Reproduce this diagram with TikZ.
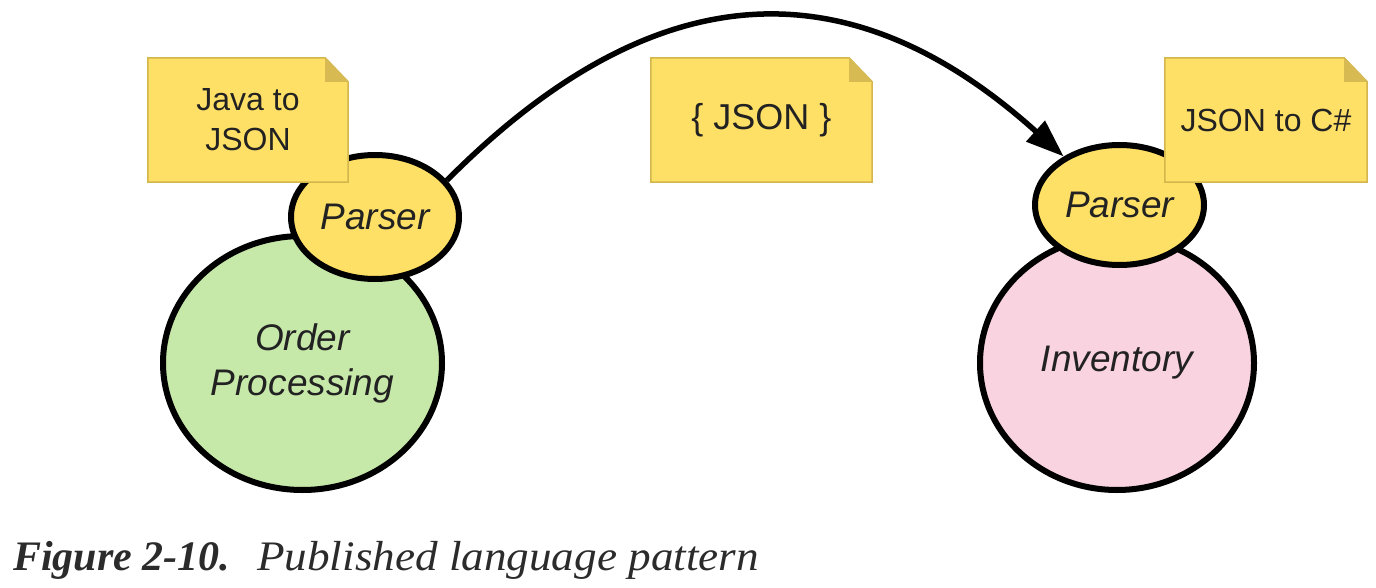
\documentclass[tikz,border=0pt]{standalone}
\usepackage{fontspec}
\setmainfont{Liberation Sans}
\newfontfamily\capfont{Liberation Serif}
\newfontfamily\capwide[FakeStretch=1.075]{Liberation Serif}
\usetikzlibrary{shapes.geometric,arrows.meta}
\pgfdeclarelayer{back}
\pgfdeclarelayer{mid}
\pgfsetlayers{back,mid,main}
\definecolor{noteY}{HTML}{FFE066}
\definecolor{noteB}{HTML}{D3B64E}
\definecolor{foldY}{HTML}{D7BB52}
\definecolor{parserY}{HTML}{FFE066}
\definecolor{opG}{HTML}{C6E8A8}
\definecolor{invP}{HTML}{F9D3DF}
\definecolor{txt}{HTML}{222222}
\definecolor{capgray}{HTML}{2B2B2B}
\newcommand\notebg[1]{%
  \fill[noteY, draw=noteB, line width=1.5pt] (#1.south west) -- (#1.north west) -- ([xshift=-23pt]#1.north east) -- ([yshift=-24pt]#1.north east) -- (#1.south east) -- cycle;
  \fill[foldY] ([xshift=-23pt]#1.north east) -- ([xshift=-23pt,yshift=-24pt]#1.north east) -- ([yshift=-24pt]#1.north east) -- cycle;}
\begin{document}
\begin{tikzpicture}[x=1pt,y=-1pt,
  bubble/.style={ellipse, draw=black, line width=6pt, inner sep=0pt, font=\fontsize{37}{45}\selectfont\itshape, align=center, text=txt},
  parser/.style={bubble, fill=parserY, minimum width=168pt, minimum height=124pt},
  bigc/.style={bubble, minimum width=279pt, minimum height=254pt},
  note/.style={rectangle, inner sep=0pt, minimum height=124pt, font=\fontsize{32}{40}\selectfont, align=center, text=txt},
  flow/.style={line width=5.5pt, -{Triangle[length=38pt,width=27pt]}},
  captext/.style={anchor=base west, inner sep=0pt, text=capgray},
]
\useasboundingbox (0,0) rectangle (1376,588);
\begin{pgfonlayer}{back}
  \node[bigc, fill=opG] (op) at (302.5,363) {Order\\Processing};
  \node[bigc, fill=invP, minimum width=274pt] (inv) at (1117,363) {Inventory};
  \node[parser] (lp) at (375,217) {Parser};
  \node[parser, minimum width=169pt, minimum height=120pt] (rp) at (1119.5,205) {Parser};
\end{pgfonlayer}
\node[note, minimum width=200pt] (n1) at (248,120) {Java to\\JSON};
\node[note, minimum width=221pt, font=\fontsize{36}{40}\selectfont] (n2) at (761.5,120) {\{ JSON \}};
\node[note, minimum width=202pt] (n3) at (1266,120) {JSON to C\#};
\begin{pgfonlayer}{mid}
  \notebg{n1}
  \notebg{n2}
  \notebg{n3}
\end{pgfonlayer}
\draw[flow] (lp.27) .. controls (655,-29) and (850,-36) .. (rp.139);
\node[captext, font=\capfont\fontsize{42}{50}\selectfont\bfseries\itshape] (cap1) at (13,570) {Figure 2-10.};
\node[captext, font=\capwide\fontsize{42}{50}\selectfont\itshape] (cap2) at (257,570) {Published language pattern};
\end{tikzpicture}
\end{document}
